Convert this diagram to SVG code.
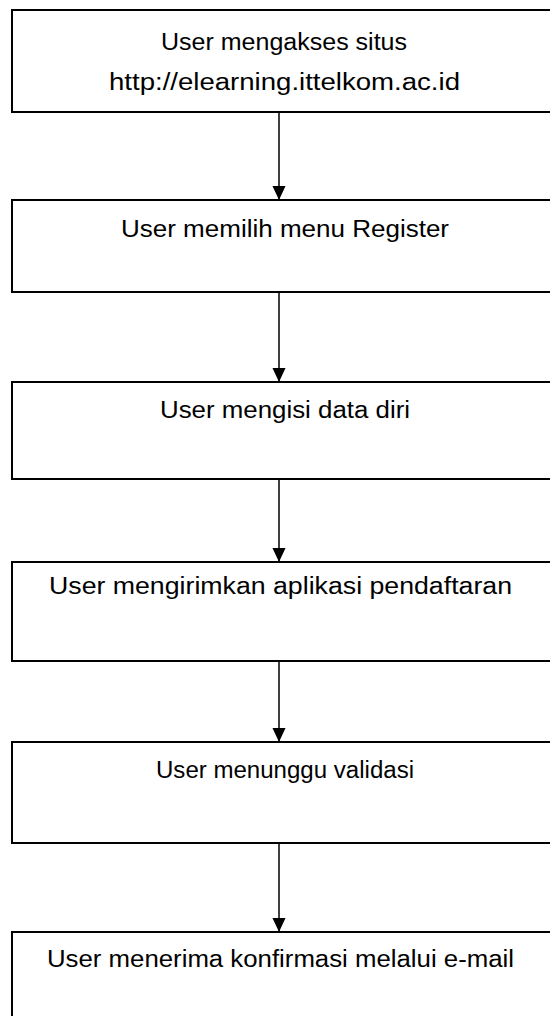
<svg xmlns="http://www.w3.org/2000/svg" width="550" height="1016" viewBox="0 0 550 1016">
<style>
.box{fill:#fff;stroke:#000;stroke-width:2}
.t{font-family:"Liberation Sans",Arial,sans-serif;font-size:23px;fill:#000;text-anchor:middle}
.c{stroke:#000;stroke-width:1.5;fill:none}
</style>
<defs>
<marker id="ah" markerWidth="14" markerHeight="15" refX="15" refY="7" orient="auto" markerUnits="userSpaceOnUse" viewBox="0 0 15 14">
<path d="M0,0 L15,7 L0,14 z" fill="#000"/>
</marker>
</defs>
<rect width="550" height="1016" fill="#fff"/>
<g id="connectors">
<line class="c" x1="279" y1="112" x2="279" y2="200" marker-end="url(#ah)"/>
<line class="c" x1="279" y1="292" x2="279" y2="382" marker-end="url(#ah)"/>
<line class="c" x1="279" y1="479" x2="279" y2="562" marker-end="url(#ah)"/>
<line class="c" x1="279" y1="661" x2="279" y2="742" marker-end="url(#ah)"/>
<line class="c" x1="279" y1="843" x2="279" y2="932" marker-end="url(#ah)"/>
</g>
<g id="n1">
<rect class="box" x="12" y="10" width="546" height="102"/>
<text class="t" x="284" y="50" textLength="246" lengthAdjust="spacingAndGlyphs">User mengakses situs</text>
<text class="t" x="284.5" y="90" textLength="351" lengthAdjust="spacingAndGlyphs">http://elearning.ittelkom.ac.id</text>
</g>
<g id="n2">
<rect class="box" x="12" y="200" width="546" height="92"/>
<text class="t" x="285" y="237" textLength="328" lengthAdjust="spacingAndGlyphs">User memilih menu Register</text>
</g>
<g id="n3">
<rect class="box" x="12" y="382" width="546" height="97"/>
<text class="t" x="285" y="418" textLength="250" lengthAdjust="spacingAndGlyphs">User mengisi data diri</text>
</g>
<g id="n4">
<rect class="box" x="12" y="562" width="546" height="99"/>
<text class="t" x="280.5" y="594" textLength="463" lengthAdjust="spacingAndGlyphs">User mengirimkan aplikasi pendaftaran</text>
</g>
<g id="n5">
<rect class="box" x="12" y="742" width="546" height="101"/>
<text class="t" x="285" y="778" textLength="258" lengthAdjust="spacingAndGlyphs">User menunggu validasi</text>
</g>
<g id="n6">
<rect class="box" x="12" y="932" width="546" height="100"/>
<text class="t" x="280.5" y="967" textLength="467" lengthAdjust="spacingAndGlyphs">User menerima konfirmasi melalui e-mail</text>
</g>
</svg>
